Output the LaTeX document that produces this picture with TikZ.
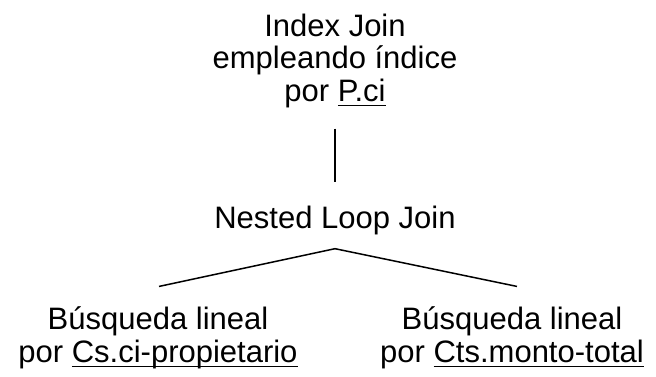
\documentclass[tikz,border=0pt]{standalone}
\usepackage{fontspec}
\setmainfont{Liberation Sans}
\usetikzlibrary{positioning}
\newcommand{\subrayado}[1]{\vtop{\hbox{\smash{#1}}\kern3.5pt\hrule height 1.8pt}}

\begin{document}
\begin{tikzpicture}[x=1pt, y=-1pt, line width=1.5pt, op/.style = {align=center, inner sep=0pt, font=\fontsize{31}{32.5}\selectfont}]
                  \useasboundingbox (0,0) rectangle (656,376);
                  \node[op, anchor=base] (ij) at (335,101) {Index Join\\empleando índice\\por \subrayado{P.ci}};
                  \node[op, anchor=base] (nlj) at (335,228) {Nested Loop Join};
                  \node[op, anchor=base] (izq) at (158,362) {Búsqueda lineal\\por \subrayado{Cs.ci-propietario}};
                  \node[op, anchor=base] (der) at (512,362) {Búsqueda lineal\\por \subrayado{Cts.monto-total}};
                  \draw (ij.south) ++(0,20.5) -- ([yshift=22.4pt]nlj.north);
                  \draw ([yshift=-13.5pt]nlj.south) -- ([xshift=1pt,yshift=19.5pt]izq.north);
                  \draw ([yshift=-13.5pt]nlj.south) -- ([xshift=5pt,yshift=19.5pt]der.north);
              \end{tikzpicture}
\end{document}
